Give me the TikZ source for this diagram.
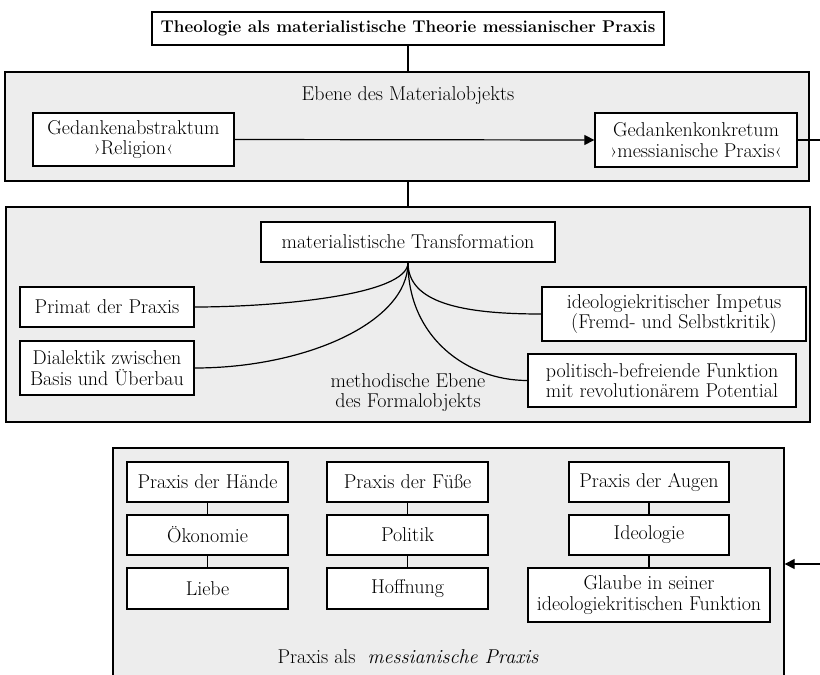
\documentclass[tikz,border=0pt]{standalone}
\usepackage{fontspec}
\usetikzlibrary{arrows.meta}
\definecolor{panelgray}{HTML}{EDEDED}
\tikzset{
  box/.style={draw, line width=1.3pt, fill=white, align=center, inner sep=0pt},
  panel/.style={draw, line width=1.3pt, fill=panelgray, inner sep=0pt},
  conn/.style={line width=1.2pt},
  lbl/.style={align=center, inner sep=0pt}
}
\begin{document}
\begin{tikzpicture}[x=1pt, y=-1pt, font=\fontsize{20}{20.5}\selectfont]
\useasboundingbox (0,0) rectangle (820,675);
\clip (0,0) rectangle (820,675);
% panels
\node[panel, minimum width=804, minimum height=109] (p1) at (407,126.5) {};
\node[panel, minimum width=804, minimum height=215] (p2) at (408,314.5) {};
\node[panel, minimum width=671, minimum height=232] (p3) at (448.5,564) {};
% title
\node[box, minimum width=512, minimum height=33, font=\fontsize{17}{20}\selectfont\bfseries] (title) at (408,28.5) {Theologie als materialistische Theorie messianischer Praxis};
% level 1
\node[lbl] (l1) at (408,96) {Ebene des Materialobjekts};
\node[box, minimum width=201, minimum height=53] (abs) at (133.5,139.5) {Gedankenabstraktum\\›Religion‹};
\node[box, minimum width=202, minimum height=54] (konk) at (696,140) {Gedankenkonkretum\\›messianische Praxis‹};
% level 2
\node[box, minimum width=294, minimum height=40] (trans) at (408,242) {materialistische Transformation};
\node[box, minimum width=174, minimum height=40] (prim) at (107,307) {Primat der Praxis};
\node[box, minimum width=174, minimum height=54] (dial) at (107,368) {Dialektik zwischen\\Basis und Überbau};
\node[box, minimum width=264, minimum height=54] (imp) at (674,314) {ideologiekritischer Impetus\\(Fremd- und Selbstkritik)};
\node[box, minimum width=268, minimum height=53] (pol) at (662,380.5) {politisch-befreiende Funktion\\mit revolutionärem Potential};
\node[lbl] (l2) at (408,392.5) {methodische Ebene\\des Formalobjekts};
% level 3
\node[box, minimum width=161, minimum height=40] (h1) at (207.5,482) {Praxis der Hände};
\node[box, minimum width=161, minimum height=40] (h2) at (207.5,535) {Ökonomie};
\node[box, minimum width=161, minimum height=41] (h3) at (207.5,588.5) {Liebe};
\node[box, minimum width=161, minimum height=40] (f1) at (407.5,482) {Praxis der Füße};
\node[box, minimum width=161, minimum height=40] (f2) at (407.5,535) {Politik};
\node[box, minimum width=161, minimum height=41] (f3) at (407.5,588.5) {Hoffnung};
\node[box, minimum width=160, minimum height=40] (a1) at (649,482) {Praxis der Augen};
\node[box, minimum width=160, minimum height=40] (a2) at (649,535) {Ideologie};
\node[box, minimum width=242, minimum height=54] (a3) at (649,595) {Glaube in seiner\\ideologiekritischen Funktion};
\node[lbl] (l3) at (408,657) {Praxis als \ \textit{messianische Praxis}};
% connectors
\draw[conn] (title.south) -- (title.south |- p1.north);
\draw[conn] (p1.south -| title.south) -- (title.south |- p2.north);
\draw[conn, -{Triangle[length=10pt,width=10pt]}] (abs.east) -- (konk.west);
\draw[conn, -{Triangle[length=10pt,width=10pt]}] (konk.east) -- (835,140) |- (p3.east);
\draw[conn] (trans.south) .. controls +(0,33) and +(78,0) .. (prim.east);
\draw[conn] (trans.south) .. controls +(0,60) and +(110,0) .. (dial.east);
\draw[conn] (trans.south) .. controls +(0,40) and +(-80,0) .. (imp.west);
\draw[conn] (trans.south) .. controls +(0,75) and +(-60,0) .. (pol.west);
\draw[conn] (h1) -- (h2) -- (h3);
\draw[conn] (f1) -- (f2) -- (f3);
\draw[conn] (a1) -- (a2) -- (a3);
\end{tikzpicture}
\end{document}
